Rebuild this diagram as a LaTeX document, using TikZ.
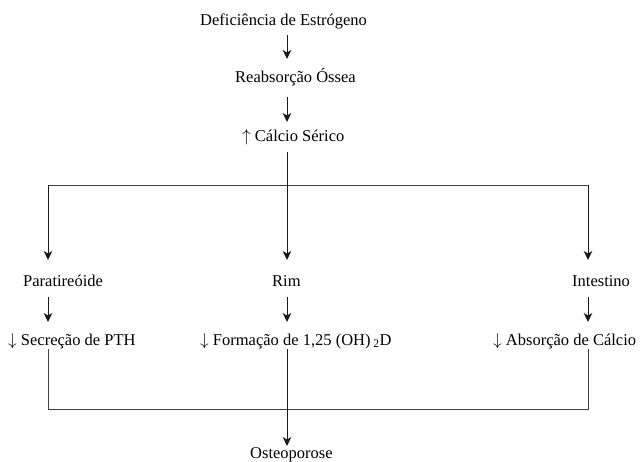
\documentclass[tikz,border=0pt]{standalone}
\usepackage{fontspec}
\setmainfont{Liberation Serif}
\usepackage{tikz}
\usetikzlibrary{arrows.meta}

\begin{document}
\begin{tikzpicture}[
  x=1pt, y=-1pt,
  rotulo/.style={font=\fontsize{16.5}{20}\selectfont, inner sep=0pt, anchor=base west},
  seta/.style={-{Stealth[length=9pt,width=8.5pt,inset=2.5pt]}, line width=1pt, draw=black!90},
  linha/.style={line width=0.8pt, draw=black!75}
]
  \useasboundingbox (0,0) rectangle (640,462);
  \coordinate (colE) at (48,0);
  \coordinate (colM) at (287,0);
  \coordinate (colD) at (588,0);
  \coordinate (ramo) at (287,185);
  \coordinate (junta) at (287,409);

  \node[rotulo] (defic) at (200,26) {Deficiência de Estrógeno};
  \node[rotulo] (reab) at (235,83) {Reabsorção Óssea};
  \node[rotulo] (calcio) at (242,142) {$\uparrow$ Cálcio Sérico};
  \node[rotulo] (parat) at (23,287) {Paratireóide};
  \node[rotulo] (rim) at (272,287) {Rim};
  \node[rotulo] (intest) at (572,287) {Intestino};
  \node[rotulo] (secr) at (8,345) {$\downarrow$ Secreção de PTH};
  \node[rotulo] (form) at (200,345) {$\downarrow$ Formação de 1,25 (OH)\,\textsubscript{2}D};
  \node[rotulo] (absor) at (493,345) {$\downarrow$ Absorção de Cálcio};
  \node[rotulo] (osteo) at (250,458) {Osteoporose};

  \draw[seta] (defic.base -| colM) ++(0,9) -- ++(0,24);
  \draw[seta] (reab.base -| colM) ++(0,14) -- ++(0,25);
  \draw[linha] (ramo -| colE) -- (ramo -| colD);
  \draw[seta, shorten >=27pt] (calcio.base -| colM) ++(0,10) -- (rim.base -| colM);
  \draw[seta, shorten >=27pt] (ramo -| colE) -- (parat.base -| colE);
  \draw[seta, shorten >=27pt] (ramo -| colD) -- (intest.base -| colD);

  \draw[seta, shorten <=10pt, shorten >=23pt] (parat.base -| colE) -- (secr.base -| colE);
  \draw[seta, shorten <=10pt, shorten >=23pt] (rim.base -| colM) -- (form.base -| colM);
  \draw[seta, shorten <=10pt, shorten >=23pt] (intest.base -| colD) -- (absor.base -| colD);

  \draw[linha] (secr.base -| colE) ++(0,4) |- (junta);
  \draw[linha] (absor.base -| colD) ++(0,4) |- (junta);
  \draw[seta, shorten <=4pt, shorten >=12pt] (form.base -| colM) -- (osteo.base -| colM);
\end{tikzpicture}
\end{document}
